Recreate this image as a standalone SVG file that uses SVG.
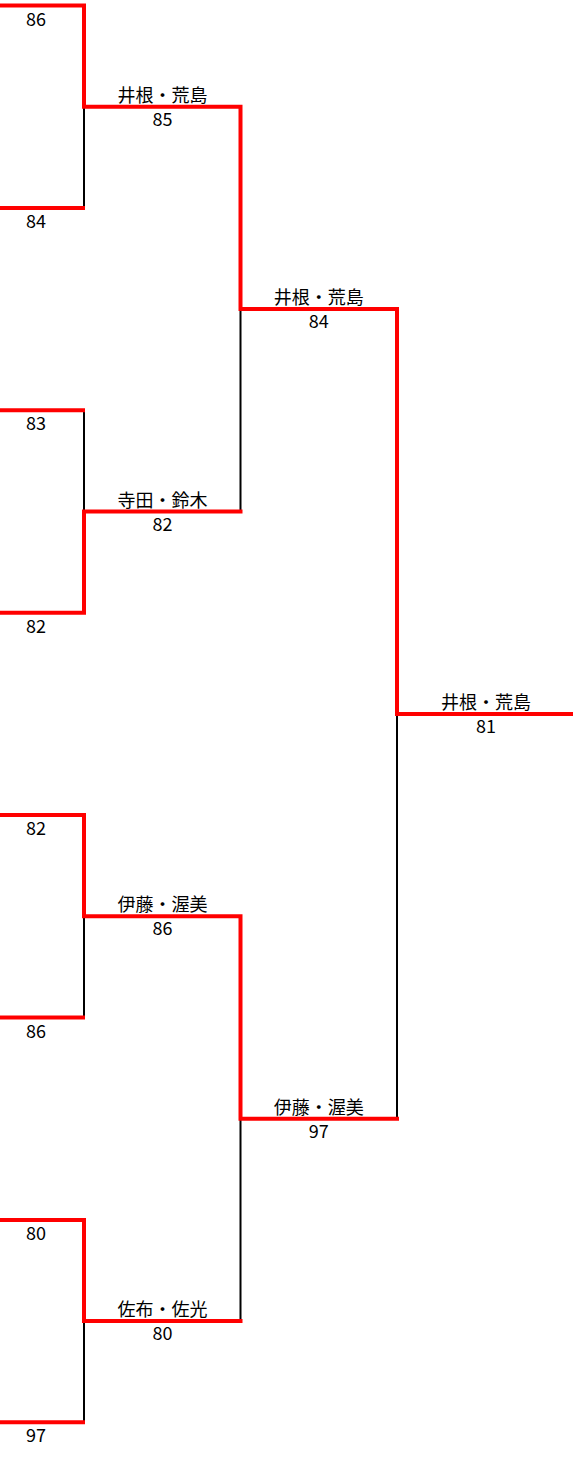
<svg xmlns="http://www.w3.org/2000/svg" width="573" height="1460" viewBox="0 0 573 1460">
<style>
.r{fill:none;stroke:#ff0000;stroke-width:4;stroke-linejoin:miter}
.b{fill:none;stroke:#000000;stroke-width:2}
text{font-family:"Noto Sans CJK JP","Noto Sans",sans-serif;font-size:18px;fill:#000;text-anchor:middle}
</style>
<rect width="573" height="1460" fill="#ffffff"/>
<g id="connectors">
<path class="b" d="M84,106.7V207.9M84,410.3V511.5M84,916.3V1017.5M84,1321.1V1422.3M240.5,309.1V511.5M240.5,1118.7V1321.1M397,713.9V1118.7"/>
<path class="r" d="M0,5.5H84V106.7H240.5V309.1H397V713.9H573"/>
<path class="r" d="M0,207.9H85"/>
<path class="r" d="M0,410.3H85"/>
<path class="r" d="M0,612.7H84V511.5H242.5"/>
<path class="r" d="M0,815.1H84V916.3H240.5V1118.7H399"/>
<path class="r" d="M0,1017.5H85"/>
<path class="r" d="M0,1219.9H84V1321.1H242.5"/>
<path class="r" d="M0,1422.3H85"/>
</g>
<g id="r1m1"><text x="36" y="25.5">86</text><text x="36" y="227.9">84</text></g>
<g id="r1m2"><text x="36" y="430.3">83</text><text x="36" y="632.7">82</text></g>
<g id="r1m3"><text x="36" y="835.1">82</text><text x="36" y="1037.5">86</text></g>
<g id="r1m4"><text x="36" y="1239.9">80</text><text x="36" y="1442.3">97</text></g>
<g id="r2m1"><text x="162.5" y="101.7">井根・荒島</text><text x="162.5" y="125.7">85</text></g>
<g id="r2m2"><text x="162.5" y="506.5">寺田・鈴木</text><text x="162.5" y="530.5">82</text></g>
<g id="r2m3"><text x="162.5" y="911.3">伊藤・渥美</text><text x="162.5" y="935.3">86</text></g>
<g id="r2m4"><text x="162.5" y="1316.1">佐布・佐光</text><text x="162.5" y="1340.1">80</text></g>
<g id="r3m1"><text x="318.7" y="304.1">井根・荒島</text><text x="318.7" y="328.1">84</text></g>
<g id="r3m2"><text x="318.7" y="1113.7">伊藤・渥美</text><text x="318.7" y="1137.7">97</text></g>
<g id="final"><text x="486" y="708.9">井根・荒島</text><text x="486" y="732.9">81</text></g>
</svg>
